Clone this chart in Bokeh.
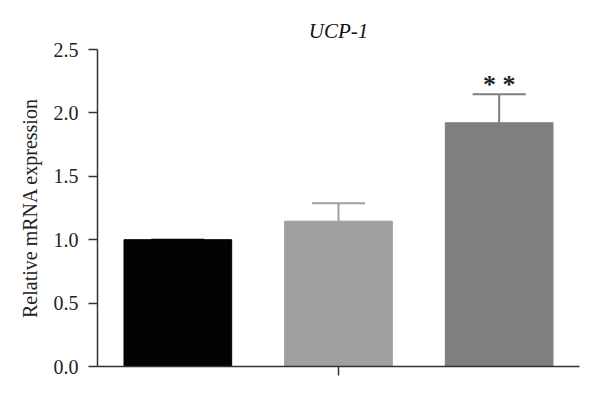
from bokeh.plotting import figure
from bokeh.models import Range1d, FixedTicker, ColumnDataSource
from bokeh.embed import file_html
from bokeh.resources import INLINE
from bokeh.core.properties import value

# ---- data ----
groups = ["Group 1", "Group 2", "Group 3"]
means = [1.0, 1.146, 1.922]
errors = [0.0, 0.142, 0.225]
bar_colors = ["#030303", "#a09e9f", "#7f7f7f"]
signif = ["", "", "* *"]
y_ticks = [0.0, 0.5, 1.0, 1.5, 2.0, 2.5]
title_text = "UCP-1"
y_label = "Relative mRNA expression"

FONT = "Liberation Serif"

xs = [i + 0.5 for i in range(len(groups))]
tops_err = [m + e for m, e in zip(means, errors)]

p = figure(width=600, height=397, output_backend="svg", toolbar_location=None,
           x_range=Range1d(0, len(groups)), y_range=Range1d(0, 2.5),
           min_border_left=97, min_border_right=21, min_border_top=49, min_border_bottom=31)
p.outline_line_color = None
p.xgrid.visible = False
p.ygrid.visible = False
p.background_fill_color = "white"
p.border_fill_color = "white"

p.title.text = title_text
p.title.align = "center"
p.title.text_font = FONT
p.title.text_font_size = "21px"
p.title.text_font_style = "italic"
p.title.text_color = "#111111"
p.title.standoff = 14

src = ColumnDataSource(dict(x=xs, top=means, err_top=tops_err, color=bar_colors,
                            cap_l=[x - 0.165 for x in xs], cap_r=[x + 0.165 for x in xs],
                            sig=signif, sig_y=[t + 0.075 for t in tops_err]))

p.vbar(x="x", top="top", bottom=0, width=0.67, fill_color="color", line_color="color", source=src)
# error bars (upper only)
p.segment(x0="x", y0="top", x1="x", y1="err_top", line_color="color", line_width=2, source=src)
p.segment(x0="cap_l", y0="err_top", x1="cap_r", y1="err_top", line_color="color", line_width=2, source=src)
p.text(x="x", y="sig_y", text="sig", text_font=value(FONT), text_font_size="26px",
       text_font_style="bold",
       text_align="center", text_baseline="alphabetic", text_color="#222222", source=src)

# y axis
ya = p.yaxis[0]
ya.ticker = FixedTicker(ticks=y_ticks)
ya.major_label_overrides = {t: f"{t:.1f}" for t in y_ticks}
ya.axis_label = y_label
ya.axis_label_text_font = FONT
ya.axis_label_text_font_style = "normal"
ya.axis_label_text_font_size = "20px"
ya.axis_label_text_color = "#222222"
ya.axis_label_standoff = 10
ya.major_label_text_font = FONT
ya.major_label_text_font_size = "20px"
ya.major_label_text_color = "#222222"
ya.major_label_standoff = 10
ya.major_tick_out = 9
ya.major_tick_in = 0
ya.minor_tick_out = 0
ya.minor_tick_in = 0
ya.axis_line_width = 1.5
ya.axis_line_color = "#333333"
ya.major_tick_line_width = 1.5
ya.major_tick_line_color = "#333333"

# x axis
xa = p.xaxis[0]
xa.ticker = FixedTicker(ticks=[1.5])
xa.major_label_overrides = {1.5: " "}
xa.major_label_text_font_size = "2px"
xa.major_label_standoff = 0
xa.major_tick_out = 9
xa.major_tick_in = 0
xa.minor_tick_out = 0
xa.minor_tick_in = 0
xa.axis_line_width = 1.5
xa.axis_line_color = "#333333"
xa.major_tick_line_width = 1.5
xa.major_tick_line_color = "#333333"

open("out.html", "w").write(file_html(p, INLINE))
